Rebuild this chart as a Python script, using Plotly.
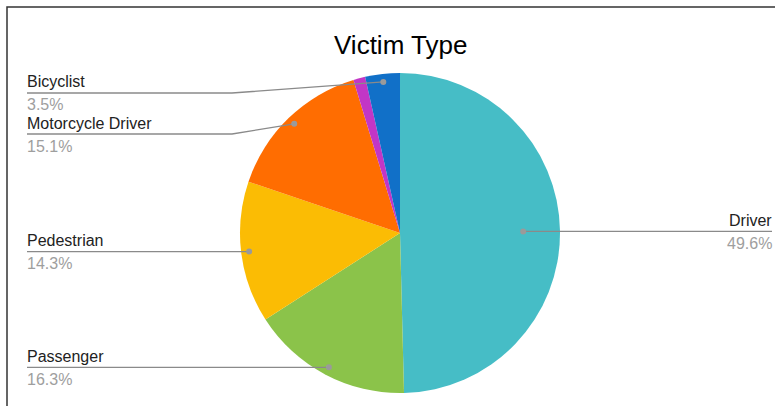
import math
import plotly.graph_objects as go

# ---- data ----
categories = ["Driver", "Passenger", "Pedestrian", "Motorcycle Driver", "Other", "Bicyclist"]
values = [49.6, 16.3, 14.3, 15.1, 1.2, 3.5]
show_label = [True, True, True, True, False, True]
title_text = "Victim Type"

# ---- style ----
colors = ["#46BDC6", "#8BC34A", "#FBBC04", "#FF6D01", "#C236C6", "#1170C8"]
W, H = 775, 406
CX, CY, R = 400, 233, 160          # pie centre / radius in pixels
FONT = "Liberation Sans"
LABEL_SIZE = 16
dot_frac = {"Driver": 0.77}        # leader dot radius fraction (default 0.95)

def px(x):
    return x / W

def py(y):
    return 1 - y / H

fig = go.Figure()
fig.add_trace(go.Pie(
    labels=categories, values=values, sort=False, direction="clockwise",
    rotation=0, textinfo="none", showlegend=False,
    marker=dict(colors=colors, line=dict(width=0)),
    domain=dict(x=[px(CX - R), px(CX + R)], y=[py(CY + R), py(CY - R)]),
))

shapes = []
annotations = []
total = sum(values)
cum = 0
left_items = []
right_items = []
for cat, v, show in zip(categories, values, show_label):
    mid = (cum + v / 2) / total * 2 * math.pi
    cum += v
    if not show:
        continue
    f = dot_frac.get(cat, 0.95)
    dx = CX + R * f * math.sin(mid)
    dy = CY - R * f * math.cos(mid)
    pct = f"{v / total * 100:.1f}%"
    item = (cat, pct, dx, dy)
    (right_items if math.sin(mid) > 0 else left_items).append(item)

LINE_C = "#8a8a8a"
DOT_C = "#9a9a9a"
TXT_C = "#222222"
PCT_C = "#9e9e9e"

def add_label(cat, pct, lx, anchor, ly):
    annotations.append(dict(x=px(lx), y=py(ly - 11), xref="paper", yref="paper",
                            text=cat, showarrow=False, xanchor=anchor, yanchor="middle",
                            font=dict(family=FONT, size=LABEL_SIZE, color=TXT_C)))
    annotations.append(dict(x=px(lx), y=py(ly + 12), xref="paper", yref="paper",
                            text=pct, showarrow=False, xanchor=anchor, yanchor="middle",
                            font=dict(family=FONT, size=LABEL_SIZE, color=PCT_C)))

def add_dot(dx, dy):
    shapes.append(dict(type="circle", xref="paper", yref="paper",
                       x0=px(dx - 3), x1=px(dx + 3), y0=py(dy + 3), y1=py(dy - 3),
                       fillcolor=DOT_C, line=dict(width=0)))

# left side labels, top to bottom
left_items.sort(key=lambda t: t[3])
prev = None
for cat, pct, dx, dy in left_items:
    ly = max(dy, 93)
    if prev is not None:
        ly = max(ly, prev + 41)
    prev = ly
    path = f"M {px(27)} {py(ly)} L {px(232)} {py(ly)} L {px(dx)} {py(dy)}"
    shapes.append(dict(type="path", xref="paper", yref="paper", path=path,
                       line=dict(color=LINE_C, width=1.3)))
    add_dot(dx, dy)
    add_label(cat, pct, 25, "left", ly)

for cat, pct, dx, dy in right_items:
    ly = dy
    path = f"M {px(772)} {py(ly)} L {px(568)} {py(ly)} L {px(dx)} {py(dy)}"
    shapes.append(dict(type="path", xref="paper", yref="paper", path=path,
                       line=dict(color=LINE_C, width=1.3)))
    add_dot(dx, dy)
    add_label(cat, pct, 774, "right", ly)

# frame (top & left border)
shapes.append(dict(type="path", xref="paper", yref="paper",
                   path=f"M {px(7)} 0 L {px(7)} {py(7)} L 1 {py(7)}",
                   line=dict(color="#333333", width=1.5)))

annotations.append(dict(x=px(CX), y=py(45), xref="paper", yref="paper", text=title_text,
                        showarrow=False, xanchor="center", yanchor="middle",
                        font=dict(family=FONT, size=26, color="#000000")))

fig.update_layout(
    width=W, height=H, autosize=False,
    margin=dict(l=0, r=0, t=0, b=0),
    paper_bgcolor="white", plot_bgcolor="white",
    shapes=shapes, annotations=annotations,
)

fig.write_html("out.html", config={"displayModeBar": False},
               post_script="document.body.style.margin='0px';document.body.style.overflow='hidden';")
